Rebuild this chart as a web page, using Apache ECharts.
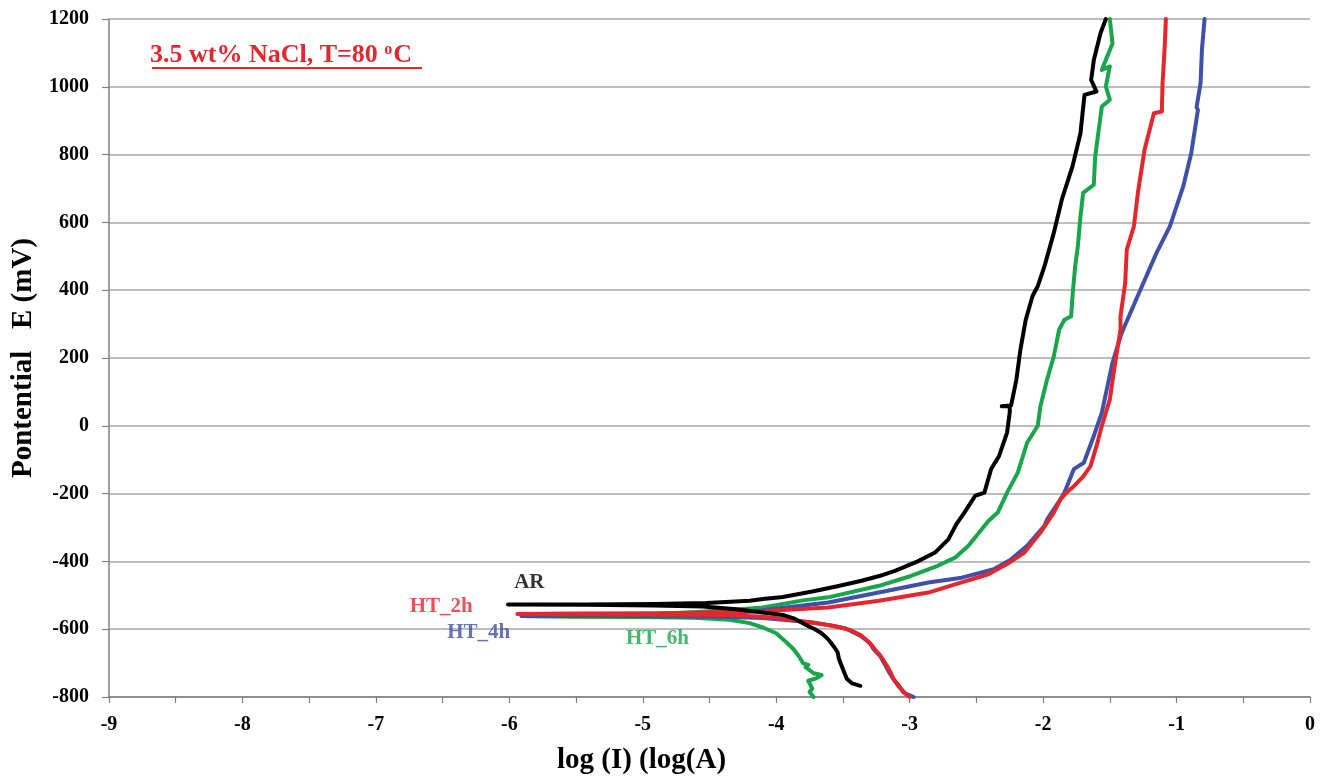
<!DOCTYPE html>
<html>
<head>
<meta charset="utf-8">
<title>Polarization curves</title>
<script src="https://cdn.jsdelivr.net/npm/echarts@6/dist/echarts.min.js"></script>
<style>
  html, body { margin: 0; padding: 0; background: #fff; }
  #chart { width: 1329px; height: 780px; }
</style>
</head>
<body>
<div id="chart"></div>
<script>
// Potentiodynamic polarization scans: [log(I), E (mV)], cathodic end -> Ecorr -> anodic end
const xTicks = [-9, -8, -7, -6, -5, -4, -3, -2, -1, 0];
const yTicks = [-800, -600, -400, -200, 0, 200, 400, 600, 800, 1000, 1200];

const seriesNames = ['AR', 'HT_2h', 'HT_4h', 'HT_6h'];

const curveAR = [
  [-3.37, -767], [-3.43, -760], [-3.47, -747], [-3.49, -728], [-3.51, -708], [-3.53, -688],
  [-3.54, -668], [-3.57, -650], [-3.61, -630], [-3.66, -612], [-3.71, -600], [-3.79, -585],
  [-3.87, -568], [-3.95, -558], [-4.10, -551], [-4.30, -541], [-4.55, -533], [-4.92, -530],
  [-5.43, -528], [-6.01, -527],
  [-5.43, -527], [-4.92, -526], [-4.52, -523], [-4.20, -516], [-4.10, -511], [-3.95, -505],
  [-3.73, -489], [-3.55, -474], [-3.36, -457], [-3.20, -440], [-3.11, -428], [-2.94, -400],
  [-2.81, -374], [-2.71, -335], [-2.65, -290], [-2.59, -256], [-2.51, -207], [-2.44, -197],
  [-2.39, -128], [-2.33, -89], [-2.27, -20], [-2.25, 40], [-2.25, 58], [-2.31, 58],
  [-2.24, 60], [-2.22, 98], [-2.20, 137], [-2.17, 225], [-2.13, 313], [-2.08, 382],
  [-2.04, 412], [-1.99, 470], [-1.92, 569], [-1.86, 667], [-1.78, 765], [-1.72, 863],
  [-1.69, 976], [-1.60, 986], [-1.64, 1020], [-1.62, 1079], [-1.57, 1158], [-1.53, 1200]
];

const curveHT2h = [
  [-3.00, -800], [-3.05, -785], [-3.08, -767], [-3.12, -748], [-3.14, -730], [-3.17, -708],
  [-3.20, -690], [-3.22, -678], [-3.26, -660], [-3.28, -649], [-3.33, -630], [-3.36, -619],
  [-3.45, -602], [-3.55, -592], [-3.73, -580], [-3.95, -570], [-4.10, -563], [-4.40, -558],
  [-4.92, -557], [-5.52, -556], [-5.94, -555],
  [-5.52, -554], [-4.92, -553], [-4.40, -550], [-4.10, -547], [-3.85, -541], [-3.61, -536],
  [-3.23, -516], [-2.86, -492], [-2.61, -462], [-2.41, -438], [-2.27, -408], [-2.14, -374],
  [-2.02, -315], [-1.92, -256], [-1.87, -217], [-1.82, -195], [-1.77, -178], [-1.70, -150],
  [-1.645, -119], [-1.60, -60], [-1.56, 0], [-1.50, 78], [-1.46, 186], [-1.42, 284],
  [-1.42, 323], [-1.385, 421], [-1.373, 520], [-1.32, 588], [-1.29, 687], [-1.24, 814],
  [-1.17, 922], [-1.11, 927], [-1.105, 1011], [-1.09, 1109], [-1.08, 1200]
];

const curveHT4h = [
  [-2.97, -800], [-3.03, -790], [-3.08, -770], [-3.12, -748], [-3.15, -730], [-3.18, -708],
  [-3.22, -680], [-3.27, -659], [-3.30, -640], [-3.37, -619], [-3.48, -598], [-3.60, -588],
  [-3.73, -580], [-3.95, -572], [-4.10, -567], [-4.40, -563], [-4.92, -562], [-5.52, -561],
  [-5.91, -561],
  [-5.52, -560], [-4.92, -558], [-4.40, -555], [-4.10, -544], [-3.85, -532], [-3.61, -521],
  [-3.11, -482], [-2.86, -462], [-2.61, -448], [-2.37, -423], [-2.24, -394], [-2.12, -354],
  [-1.99, -295], [-1.97, -276], [-1.87, -217], [-1.84, -197], [-1.77, -128], [-1.695, -109],
  [-1.62, -30], [-1.56, 39], [-1.48, 186], [-1.42, 264], [-1.40, 284], [-1.27, 402],
  [-1.15, 510], [-1.05, 588], [-0.95, 706], [-0.89, 804], [-0.84, 932], [-0.85, 940],
  [-0.82, 1011], [-0.81, 1109], [-0.79, 1200]
];

const curveHT6h = [
  [-3.72, -800], [-3.75, -785], [-3.73, -775], [-3.74, -767], [-3.76, -752], [-3.70, -745],
  [-3.66, -735], [-3.72, -730], [-3.73, -727], [-3.78, -712], [-3.76, -705], [-3.80, -700],
  [-3.83, -680], [-3.87, -659], [-3.92, -640], [-4.00, -612], [-4.10, -595], [-4.20, -582],
  [-4.35, -572], [-4.62, -566], [-5.02, -564], [-5.52, -563], [-5.87, -562],
  [-5.52, -561], [-5.02, -558], [-4.62, -550], [-4.30, -542], [-4.10, -536], [-3.80, -515],
  [-3.61, -506], [-3.23, -472], [-2.99, -443], [-2.79, -413], [-2.66, -389], [-2.56, -354],
  [-2.46, -305], [-2.41, -281], [-2.34, -256], [-2.27, -197], [-2.19, -138], [-2.12, -50],
  [-2.04, 0], [-2.02, 58], [-1.97, 137], [-1.92, 205], [-1.88, 284], [-1.84, 313],
  [-1.79, 323], [-1.78, 382], [-1.76, 470], [-1.74, 529], [-1.72, 618], [-1.70, 687],
  [-1.62, 711], [-1.61, 794], [-1.58, 883], [-1.56, 942], [-1.50, 962], [-1.53, 1001],
  [-1.50, 1060], [-1.56, 1050], [-1.48, 1128], [-1.50, 1200]
];

const curves = [curveAR, curveHT2h, curveHT4h, curveHT6h];
const colors = ['#000000', '#e5262c', '#3f50a8', '#17a64a'];

const serif = "'Liberation Serif', 'Times New Roman', serif";

const chart = echarts.init(document.getElementById('chart'), null, { renderer: 'canvas' });

const lineSeries = curves.map((data, i) => ({
  name: seriesNames[i],
  type: 'line',
  data: data,
  showSymbol: false,
  smooth: false,
  clip: true,
  z: 10 - i,
  lineStyle: { color: colors[i], width: 4, join: 'round', cap: 'round' }
}));

// curve captions placed in data coordinates
const captions = {
  name: 'captions',
  type: 'scatter',
  symbolSize: 0,
  silent: true,
  z: 20,
  data: [
    { value: [-5.85, -462], label: { formatter: seriesNames[0], color: colors[0] } },
    { value: [-6.51, -533], label: { formatter: seriesNames[1], color: colors[1] } },
    { value: [-6.23, -611], label: { formatter: seriesNames[2], color: colors[2] } },
    { value: [-4.89, -629], label: { formatter: seriesNames[3], color: colors[3] } }
  ],
  label: {
    show: true,
    position: 'inside',
    fontFamily: serif,
    fontWeight: 'bold',
    fontSize: 21
  }
};

const option = {
  backgroundColor: '#ffffff',
  animation: false,
  title: {
    text: '{a|3.5 wt% NaCl, T=80 }{s|o}{a|C}',
    left: 150,
    top: 42,
    padding: 0,
    textStyle: {
      rich: {
        a: { fontFamily: serif, fontWeight: 'bold', fontSize: 26, color: '#e5262c' },
        s: { fontFamily: serif, fontWeight: 'bold', fontSize: 16, color: '#e5262c', padding: [0, 1, 10, 0] }
      }
    }
  },
  graphic: [
    {
      type: 'line',
      shape: { x1: 152, y1: 68, x2: 422, y2: 68 },
      style: { stroke: '#e5262c', lineWidth: 2 },
      silent: true
    }
  ],
  grid: { left: 109, right: 19, top: 19, bottom: 82, containLabel: false },
  xAxis: {
    type: 'value',
    min: xTicks[0],
    max: xTicks[xTicks.length - 1],
    interval: 1,
    name: 'log (I) (log(A)',
    nameLocation: 'middle',
    nameGap: 49,
    nameTextStyle: {
      fontFamily: serif, fontWeight: 'bold', fontSize: 29, color: '#000',
      padding: [0, 136, 0, 0]
    },
    axisLine: { show: true, onZero: false, lineStyle: { color: '#808080', width: 1.5 } },
    axisTick: { show: true, length: 6, lineStyle: { color: '#808080', width: 1.2 } },
    minorTick: { show: true, splitNumber: 2, length: 6, lineStyle: { color: '#808080', width: 1.2 } },
    splitLine: { show: false },
    axisLabel: {
      margin: 18,
      formatter: v => String(v),
      fontFamily: serif, fontWeight: 'bold', fontSize: 20, color: '#000'
    }
  },
  yAxis: {
    type: 'value',
    min: yTicks[0],
    max: yTicks[yTicks.length - 1],
    interval: 200,
    name: 'Pontential   E (mV)',
    nameLocation: 'middle',
    nameGap: 66,
    nameTextStyle: { fontFamily: serif, fontWeight: 'bold', fontSize: 29, color: '#000' },
    axisLine: { show: true, onZero: false, lineStyle: { color: '#808080', width: 1.5 } },
    axisTick: { show: true, length: 7, lineStyle: { color: '#808080', width: 1.2 } },
    splitLine: { show: true, lineStyle: { color: '#a6a6a6', width: 1.5 } },
    axisLabel: {
      margin: 20,
      formatter: v => String(v),
      fontFamily: serif, fontWeight: 'bold', fontSize: 20, color: '#000'
    }
  },
  series: [...lineSeries, captions]
};

chart.setOption(option);
</script>
</body>
</html>
